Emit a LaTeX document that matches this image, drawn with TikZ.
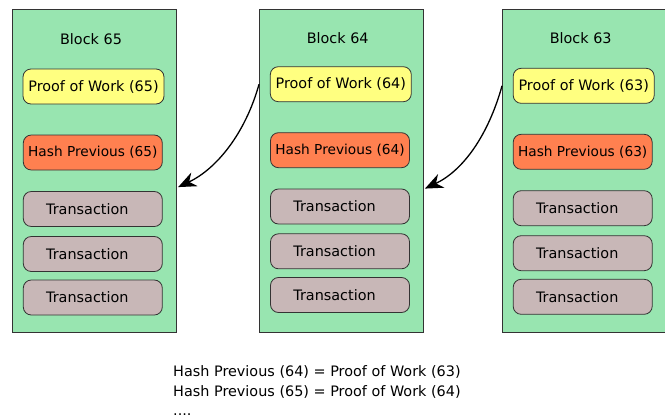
\documentclass[tikz,border=0pt]{standalone}
\usepackage{fontspec}
\setmainfont{DejaVu Sans}
\usetikzlibrary{arrows.meta,calc}
\definecolor{blockgreen}{RGB}{152,229,176}
\definecolor{powyellow}{RGB}{255,255,128}
\definecolor{hashorange}{RGB}{255,128,80}
\definecolor{txgray}{RGB}{200,183,183}
\definecolor{edgegray}{RGB}{51,51,51}
\tikzset{
  blockbox/.style={draw=edgegray, line width=0.9pt, fill=blockgreen, minimum width=164pt, minimum height=323pt, inner sep=0pt},
  inbox/.style={draw=edgegray, line width=0.8pt, rounded corners=8pt, minimum height=35pt, inner sep=0pt, font=\fontsize{14.4}{17}\selectfont},
  powbox/.style={inbox, fill=powyellow, minimum width=141pt},
  hashbox/.style={inbox, fill=hashorange, minimum width=139pt, font=\fontsize{13.7}{17}\selectfont},
  txbox/.style={inbox, fill=txgray, minimum width=139pt},
  titletext/.style={font=\fontsize{14.4}{17}\selectfont, inner sep=0pt},
  eqtext/.style={font=\fontsize{14.4}{17}\selectfont, inner sep=0pt, anchor=base west},
  chain/.style={line width=1.3pt, -{Stealth[length=18pt,width=15pt]}}
}
\newcommand{\txlabel}{Transaction\hspace*{11pt}}
\begin{document}
\begin{tikzpicture}[x=1pt,y=-1pt]
\useasboundingbox (0,0) rectangle (665,418);
\clip (0,0) rectangle (665,418);
% Block 65
\node[blockbox] (b65) at (94.7,171) {};
\node[titletext] (t65) at (91,39.5) {Block 65};
\node[powbox] (pow65) at (93.5,86.5) {Proof of Work (65)};
\node[hashbox] (hash65) at (92.8,152.5) {Hash Previous (65)};
\node[txbox] (tx65a) at (92.8,209) {\txlabel};
\node[txbox] (tx65b) at (92.8,254) {\txlabel};
\node[txbox] (tx65c) at (92.8,297.5) {\txlabel};
% Block 64
\node[blockbox] (b64) at (341.5,170.8) {};
\node[titletext] (t64) at (337.7,38) {Block 64};
\node[powbox] (pow64) at (340.8,84.2) {Proof of Work (64)};
\node[hashbox] (hash64) at (340,150.2) {Hash Previous (64)};
\node[txbox] (tx64a) at (340,206.5) {\txlabel};
\node[txbox] (tx64b) at (340,251.3) {\txlabel};
\node[txbox] (tx64c) at (340,295) {\txlabel};
% Block 63
\node[blockbox] (b63) at (584.5,170.8) {};
\node[titletext] (t63) at (580.7,38.5) {Block 63};
\node[powbox] (pow63) at (583.7,85.8) {Proof of Work (63)};
\node[hashbox] (hash63) at (582.7,151.8) {Hash Previous (63)};
\node[txbox] (tx63a) at (582.7,208.2) {\txlabel};
\node[txbox] (tx63b) at (582.7,253.2) {\txlabel};
\node[txbox] (tx63c) at (582.7,296.8) {\txlabel};
% connectors
\coordinate (s64) at (b64.west |- pow64.center);
\coordinate (e65) at ($(b65.east |- tx65a.north)+(1,-4)$);
\draw[chain] (s64) .. controls +(-14,50) and +(38,-18) .. (e65);
\coordinate (s63) at (b63.west |- pow63.center);
\coordinate (e64) at ($(b64.east |- tx64a.north)+(1,0)$);
\draw[chain] (s63) .. controls +(-14,50) and +(38,-18) .. (e64);
% equations
\node[eqtext] (eq1) at (173,376.5) {Hash Previous (64) = Proof of Work (63)};
\node[eqtext] (eq2) at (173,396) {Hash Previous (65) = Proof of Work (64)};
\node[eqtext] (eq3) at (173,415) {....};
\end{tikzpicture}
\end{document}
